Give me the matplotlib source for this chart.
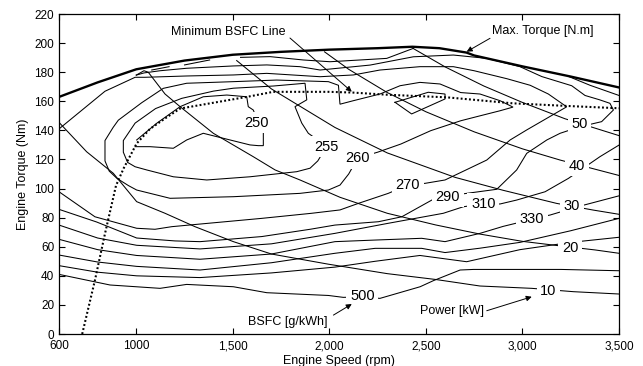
import matplotlib
matplotlib.use('Agg')
import matplotlib.pyplot as plt

plt.rcParams['font.family'] = ['Liberation Sans', 'DejaVu Sans']

# ---------------- data ----------------
x_ticks = [600, 1000, 1500, 2000, 2500, 3000, 3500]
x_tick_labels = ['600', '1000', '1,500', '2,000', '2,500', '3,000', '3,500']
y_ticks = [0, 20, 40, 60, 80, 100, 120, 140, 160, 180, 200, 220]

max_torque_rpm = [600, 800, 1000, 1250, 1500, 1750, 2000, 2250, 2430, 2570, 2710, 2750, 3000, 3250, 3500]
max_torque_nm = [163, 173, 182, 188, 192, 194, 195.5, 196.5, 197.5, 196.5, 193.5, 191.5, 184, 177, 169.5]

min_bsfc_rpm = [720, 786, 838, 895, 935, 1002, 1071, 1158, 1227, 1400, 1572, 1709, 2000, 2120, 2300, 2610, 2950, 3230, 3500]
min_bsfc_nm = [0, 37, 69, 102, 114, 131, 141, 149, 155, 159, 163, 166.5, 166.5, 166, 164.5, 162.7, 158.6, 156.8, 155.2]

# constant power lines (kW)
p10_rpm = [600, 743, 881, 1002, 1149, 1304, 1503, 1700, 1995, 2300, 2550, 2780, 3048, 3264, 3500]
p10_nm = [145.5, 125.3, 110.5, 91, 83, 73.8, 63.5, 55, 48, 41.5, 37.5, 33, 31.4, 29.1, 27.5]
p20_rpm = [1000, 1040, 1062, 1149, 1227, 1399, 1606, 1719, 1848, 2055, 2300, 2550, 2780, 3000, 3169, 3376, 3500]
p20_nm = [178, 181, 180, 165, 156.3, 138, 121.9, 112.8, 105.9, 94, 83, 75, 68.7, 63.7, 61, 57.8, 55.5]
p30_rpm = [1520, 1700, 2029, 2300, 2651, 2900, 3177, 3367, 3500]
p30_nm = [188, 168.5, 142, 124.5, 107.7, 98.8, 89.8, 85.2, 82.3]
p40_rpm = [1975, 2100, 2300, 2500, 2750, 3000, 3195, 3500]
p40_nm = [194, 182, 166, 152.8, 139, 127.3, 119.6, 109]
p50_rpm = [2433, 2600, 2800, 3000, 3220, 3500]
p50_nm = [196.4, 183.6, 170.5, 159.2, 148, 136.4]
p60_rpm = [3240, 3350, 3500]
p60_nm = [177, 171, 164]

power_labels = ['10', '20', '30', '40', '50']
power_label_rpm = [3134, 3247, 3255, 3281, 3295]
power_label_nm = [29.8, 58.8, 88.2, 115.8, 144.5]

# BSFC contours (g/kWh)
b250_rpm = [1002, 1106, 1227, 1347, 1469, 1572, 1580, 1606, 1630, 1658, 1658, 1632, 1589, 1486, 1347, 1261, 1192, 1071, 994]
b250_nm = [133.4, 144.9, 156.3, 163.1, 164.3, 163.1, 156.3, 154, 146, 139, 129.5, 129.5, 130, 133.4, 138, 133.4, 127.7, 128.8, 128.8]
b255_rpm = [1986, 1940, 1900, 1831, 1589, 1365, 1192, 1054, 994, 955, 933, 933, 994, 1100, 1235, 1400, 1503, 1710, 1874, 1883, 1822, 1857, 1891, 1986]
b255_nm = [129, 119, 114, 111.6, 108.1, 105.9, 108.1, 112.8, 115, 118, 125, 133, 145, 155, 162, 167, 169, 170.5, 172.4, 161, 156.3, 145, 138, 129]
b260_rpm = [2147, 2100, 2055, 1995, 1848, 1503, 1175, 1002, 960, 900, 860, 838, 838, 880, 907, 1028, 1140, 1261, 1503, 1727, 1995, 2047,
            2055, 2124, 2262, 2366, 2469, 2573, 2680, 2780, 2884, 2951, 2884, 2780, 2680, 2525, 2370, 2250, 2147]
b260_nm = [121, 110, 102.4, 99, 96.7, 94.4, 93.3, 99, 102, 107, 112, 119, 133, 142, 147, 159, 168.9, 172.4, 173.5, 174.6, 173.5, 171,
           158, 160.4, 165, 170.7, 173, 171.9, 166, 165, 160.4, 156, 153.5, 150, 146.6, 139.8, 130.6, 125, 121]
b260_island_rpm = [2340, 2426, 2599, 2599, 2512, 2340]
b260_island_nm = [159.3, 151.3, 161.6, 165, 166.2, 159.3]
b270_rpm = [600, 786, 1002, 1097, 1184, 1330, 1649, 1908, 2055, 2150, 2305, 2406, 2496, 2599, 2815, 2936, 3022, 3229, 3134, 3040,
            2920, 2750, 2642, 2469, 2262, 2124, 1952, 1676, 1503, 1261, 1045, 994, 838, 600]
b270_nm = [97.8, 80.6, 72.7, 72, 73.8, 75.6, 79.5, 83, 85.3, 89.8, 96.7, 102.4, 103.6, 105.9, 119.6, 133.4, 140.3, 156.2, 165, 171,
           175.5, 181, 183.8, 183.8, 181.5, 178.1, 176.9, 179.2, 178.1, 177.4, 176.5, 176.5, 166.9, 141]
b290_rpm = [600, 795, 1002, 1200, 1330, 1650, 1900, 2029, 2254, 2375, 2547, 2613, 2700, 2867, 2970, 3022, 3126, 3195, 3298, 3410, 3471,
            3453, 3400, 3324, 3255, 3100, 2987, 2815, 2642, 2435, 2211, 1952, 1848, 1676, 1503, 1261, 1123, 1040, 1000]
b290_nm = [85.7, 77, 66, 64, 63.5, 67, 72, 74.9, 77.2, 80.6, 93.3, 94.4, 96.5, 99.5, 112.8, 124.2, 133.4, 138, 142.5, 146, 154,
           158.6, 161, 164, 170.7, 177, 183.8, 189.5, 191.8, 190.6, 184.9, 181.5, 183.8, 185, 184.3, 182.7, 181, 179.5, 178]
b310_rpm = [600, 800, 1002, 1330, 1700, 2029, 2300, 2590, 2694, 2797, 2884, 2970, 3117, 3238, 3401, 3500]
b310_nm = [74.9, 66, 61, 58.5, 62, 69.2, 76, 83, 87.5, 89.4, 89.4, 92.1, 97.8, 107, 121.9, 129.9]
b330_rpm = [600, 800, 1002, 1330, 1700, 2029, 2237, 2478, 2599, 2780, 2900, 3048, 3100, 3143, 3300, 3500]
b330_nm = [65.1, 58, 54, 51.4, 55, 63.5, 64.6, 65.8, 63.5, 69.2, 74, 78.8, 80.6, 81.8, 88, 95]
b370_rpm = [600, 800, 1002, 1330, 1700, 2029, 2237, 2478, 2599, 2780, 2987, 3250, 3500]
b370_nm = [54.3, 49.5, 46.5, 44, 49, 55.5, 58.9, 58.9, 56, 59, 63, 71, 79.5]
b420_rpm = [600, 800, 1002, 1330, 1700, 2029, 2237, 2469, 2711, 2987, 3250, 3500]
b420_nm = [47, 42.5, 40, 38.8, 42, 46, 50, 54, 49.7, 58, 63, 66.5]
b500_rpm = [600, 864, 1123, 1261, 1503, 1676, 1995, 2072, 2171, 2262, 2470, 2539, 2677, 2746, 3200, 3500]
b500_nm = [41, 33.7, 31.4, 34.1, 32.5, 28.4, 26.5, 25.2, 25.5, 24.5, 32.5, 36.7, 44, 44.4, 44.4, 43.5]
top_seg1_rpm = [1080, 1170]
top_seg1_nm = [181.5, 183.8]
top_seg2_rpm = [1250, 1380]
top_seg2_nm = [185, 188.4]
top_seg3_rpm = [1540, 1693, 1865, 2003, 2159, 2297, 2435]
top_seg3_nm = [190.2, 190.7, 188.4, 187.2, 188.4, 189.5, 196.4]

bsfc_labels = ['250', '255', '260', '270', '290', '310', '330', '500']
bsfc_label_rpm = [1624, 1986, 2147, 2406, 2613, 2797, 3048, 2171]
bsfc_label_nm = [145.3, 128.8, 121, 102.4, 94.4, 89.4, 78.8, 26.1]

# ---------------- plot ----------------
fig = plt.figure(figsize=(6.43, 3.66), dpi=100)
ax = fig.add_axes([0.0918, 0.0874, 0.8709, 0.8743])

thin = dict(color='black', lw=0.75, solid_joinstyle='miter')
lines = [
    (p10_rpm, p10_nm), (p20_rpm, p20_nm), (p30_rpm, p30_nm), (p40_rpm, p40_nm),
    (p50_rpm, p50_nm), (p60_rpm, p60_nm),
    (b250_rpm, b250_nm), (b255_rpm, b255_nm), (b260_rpm, b260_nm),
    (b260_island_rpm, b260_island_nm), (b270_rpm, b270_nm), (b290_rpm, b290_nm),
    (b310_rpm, b310_nm), (b330_rpm, b330_nm), (b370_rpm, b370_nm),
    (b420_rpm, b420_nm), (b500_rpm, b500_nm),
    (top_seg1_rpm, top_seg1_nm), (top_seg2_rpm, top_seg2_nm), (top_seg3_rpm, top_seg3_nm),
]
for xs, ys in lines:
    ax.plot(xs, ys, **thin)

ax.plot(max_torque_rpm, max_torque_nm, color='black', lw=1.7)
ax.plot(min_bsfc_rpm, min_bsfc_nm, color='black', lw=1.5, linestyle=(0, (0.9, 1.1)))

lbl_box = dict(boxstyle='square,pad=0.25', fc='white', ec='none')
for t, xv, yv in zip(power_labels + bsfc_labels,
                     power_label_rpm + bsfc_label_rpm,
                     power_label_nm + bsfc_label_nm):
    ax.text(xv, yv, t, fontsize=10.5, ha='center', va='center', bbox=lbl_box, zorder=5)

arrow = dict(arrowstyle='-|>', color='black', lw=0.7, mutation_scale=8, shrinkA=0, shrinkB=0)
ax.annotate('', xy=(2116, 166.6), xytext=(1796, 203.5), arrowprops=arrow, zorder=6)
ax.annotate('', xy=(2711, 194.1), xytext=(2832, 203.3), arrowprops=arrow, zorder=6)
ax.annotate('', xy=(2116, 20.6), xytext=(2021, 13), arrowprops=arrow, zorder=6)
ax.annotate('', xy=(3048, 25.6), xytext=(2815, 16), arrowprops=arrow, zorder=6)

ax.text(1178, 207.8, 'Minimum BSFC Line', fontsize=9, ha='left', va='center')
ax.text(2841, 208.5, 'Max. Torque [N.m]', fontsize=9, ha='left', va='center')
ax.text(1579, 8.5, 'BSFC [g/kWh]', fontsize=9, ha='left', va='center', zorder=6)
ax.text(2470, 16, 'Power [kW]', fontsize=9, ha='left', va='center', zorder=6)

ax.set_xlim(600, 3500)
ax.set_ylim(0, 220)
ax.set_xticks(x_ticks)
ax.set_xticklabels(x_tick_labels)
ax.set_yticks(y_ticks)
ax.tick_params(direction='in', top=True, right=True, length=4, width=0.8, labelsize=8.5)
ax.tick_params(axis='x', pad=4.5)
ax.tick_params(axis='y', pad=3.5)
for s in ax.spines.values():
    s.set_linewidth(0.9)
ax.set_xlabel('Engine Speed (rpm)', fontsize=9, labelpad=2)
ax.set_ylabel('Engine Torque (Nm)', fontsize=9, labelpad=4)

fig.savefig('out.png', dpi=100)
